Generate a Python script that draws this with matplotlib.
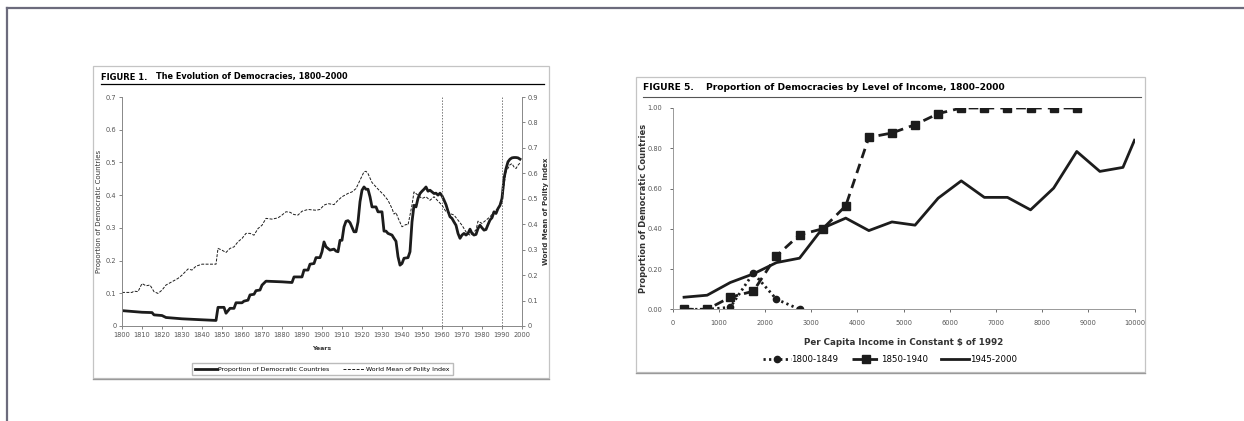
import matplotlib
matplotlib.use("Agg")
import matplotlib.pyplot as plt
from matplotlib.patches import Rectangle
from matplotlib.lines import Line2D

W, H = 1244, 421

# Figure 1 data: proportion of democratic countries (left axis)
anos_prop = [1800, 1810, 1815, 1816, 1820, 1822, 1830, 1840, 1847, 1848, 1851, 1852, 1854, 1856,
             1857, 1860, 1861, 1863, 1864, 1866, 1867, 1869, 1870, 1872, 1880, 1885, 1886, 1890,
             1891, 1893, 1894, 1896, 1897, 1899, 1900, 1901, 1902, 1904, 1906, 1907, 1908, 1909,
             1910, 1911, 1912, 1913, 1914, 1916, 1917, 1918, 1919, 1920, 1921, 1922, 1923, 1924,
             1925, 1927, 1928, 1930, 1931, 1932, 1933, 1935, 1936, 1937, 1938, 1939, 1940, 1941,
             1943, 1944, 1945, 1946, 1947, 1948, 1949, 1950, 1951, 1952, 1953, 1954, 1955, 1956,
             1957, 1958, 1959, 1960, 1961, 1962, 1963, 1964, 1965, 1966, 1967, 1968, 1969, 1970,
             1971, 1972, 1973, 1974, 1975, 1976, 1977, 1978, 1979, 1980, 1981, 1982, 1983, 1984,
             1985, 1986, 1987, 1988, 1989, 1990, 1991, 1992, 1993, 1994, 1995, 1996, 1997, 1998,
             1999]
prop_democ = [0.047, 0.042, 0.041, 0.034, 0.032, 0.026, 0.022, 0.019, 0.017, 0.057, 0.057, 0.039,
              0.054, 0.054, 0.071, 0.071, 0.076, 0.079, 0.095, 0.097, 0.108, 0.110, 0.125, 0.137,
              0.135, 0.133, 0.150, 0.150, 0.171, 0.171, 0.189, 0.191, 0.209, 0.209, 0.227, 0.257,
              0.242, 0.232, 0.235, 0.229, 0.227, 0.262, 0.262, 0.303, 0.320, 0.322, 0.316, 0.288,
              0.288, 0.318, 0.380, 0.415, 0.425, 0.418, 0.418, 0.395, 0.364, 0.364, 0.349, 0.349,
              0.290, 0.290, 0.283, 0.278, 0.268, 0.259, 0.212, 0.186, 0.191, 0.207, 0.209, 0.227,
              0.318, 0.369, 0.364, 0.390, 0.405, 0.412, 0.418, 0.425, 0.412, 0.415, 0.410, 0.405,
              0.406, 0.400, 0.406, 0.398, 0.385, 0.371, 0.351, 0.334, 0.329, 0.318, 0.308, 0.283,
              0.268, 0.278, 0.283, 0.278, 0.283, 0.296, 0.283, 0.278, 0.280, 0.298, 0.308, 0.300,
              0.293, 0.295, 0.310, 0.324, 0.331, 0.349, 0.344, 0.359, 0.369, 0.390, 0.451, 0.481,
              0.502, 0.510, 0.514, 0.515, 0.515, 0.514, 0.510]

# Figure 1 data: world mean of polity index (right axis)
anos_polity = [1800, 1805, 1806, 1808, 1810, 1812, 1814, 1816, 1818, 1820, 1822, 1825, 1828, 1830,
               1833, 1835, 1837, 1840, 1847, 1848, 1850, 1852, 1854, 1856, 1858, 1860, 1862, 1864,
               1866, 1868, 1870, 1872, 1875, 1878, 1880, 1882, 1884, 1886, 1888, 1890, 1893, 1897,
               1899, 1901, 1903, 1906, 1908, 1910, 1913, 1915, 1917, 1919, 1921, 1922, 1923, 1925,
               1928, 1931, 1933, 1935, 1936, 1937, 1938, 1940, 1942, 1943, 1945, 1946, 1948, 1950,
               1952, 1954, 1956, 1958, 1960, 1962, 1964, 1966, 1968, 1970, 1972, 1974, 1975, 1977,
               1978, 1980, 1982, 1984, 1986, 1988, 1990, 1991, 1992, 1994, 1995, 1996, 1997, 1998,
               1999]
polity = [0.132, 0.132, 0.137, 0.135, 0.167, 0.158, 0.161, 0.135, 0.128, 0.141, 0.161, 0.174,
          0.187, 0.200, 0.224, 0.220, 0.235, 0.243, 0.243, 0.305, 0.298, 0.289, 0.305, 0.311,
          0.331, 0.344, 0.364, 0.364, 0.357, 0.383, 0.396, 0.423, 0.420, 0.425, 0.436, 0.449,
          0.447, 0.438, 0.436, 0.451, 0.458, 0.455, 0.458, 0.475, 0.481, 0.477, 0.494, 0.508,
          0.521, 0.527, 0.540, 0.573, 0.606, 0.608, 0.599, 0.564, 0.538, 0.514, 0.494, 0.462,
          0.440, 0.446, 0.425, 0.390, 0.399, 0.397, 0.475, 0.527, 0.514, 0.501, 0.508, 0.494,
          0.508, 0.491, 0.475, 0.449, 0.442, 0.436, 0.416, 0.396, 0.370, 0.357, 0.364, 0.377,
          0.412, 0.403, 0.416, 0.429, 0.449, 0.462, 0.488, 0.553, 0.606, 0.634, 0.638, 0.625,
          0.619, 0.632, 0.641]

marcos = [1960, 1990]

# Figure 5 data
renda = [250, 750, 1250, 1750, 2250, 2750, 3250, 3750, 4250, 4750, 5250, 5750, 6250, 6750,
         7250, 7750, 8250, 8750, 9250, 9750, 10000]
p_1800_1849 = [0.00, 0.00, 0.01, 0.18, 0.05, 0.00]
p_1850_1940 = [0.00, 0.00, 0.06, 0.09, 0.265, 0.37, 0.40, 0.514, 0.854, 0.876, 0.917, 0.972,
               1.00, 1.00, 1.00, 1.00, 1.00, 1.00]
p_1945_2000 = [0.06, 0.07, 0.133, 0.176, 0.232, 0.254, 0.403, 0.453, 0.391, 0.434, 0.418,
               0.552, 0.638, 0.556, 0.556, 0.494, 0.602, 0.784, 0.685, 0.705, 0.84]


def caixa(x0, y0, x1, y1):
    # converte pixels (topo-esquerda) para coordenadas da figura
    return [x0 / W, 1 - y1 / H, (x1 - x0) / W, (y1 - y0) / H]


def fx(x):
    return x / W


def fy(y):
    return 1 - y / H


fig = plt.figure(figsize=(W / 100, H / 100), dpi=100)
fig.patch.set_facecolor('white')

# moldura da página
fig.add_artist(Line2D([fx(7), 1], [fy(8), fy(8)], color='#6c6b7c', lw=1.6))
fig.add_artist(Line2D([fx(7), fx(7)], [fy(8), 0], color='#6c6b7c', lw=1.6))

# caixas dos painéis
for (x0, y0, x1, y1) in [(93, 66, 549, 378), (636, 77, 1145, 372)]:
    fig.add_artist(Rectangle((fx(x0), fy(y1)), (x1 - x0) / W, (y1 - y0) / H,
                             transform=fig.transFigure, fill=False, ec='#c4c4c4', lw=0.9))
    fig.add_artist(Line2D([fx(x0), fx(x1)], [fy(y1) - 0.002, fy(y1) - 0.002],
                          color='#9a9a9a', lw=1.0))

cor = '#1c1c1c'

# ---------------- FIGURE 1 ----------------
fig.text(fx(101), fy(77), 'FIGURE 1.', fontsize=6.0, fontweight='heavy', va='center')
fig.text(fx(156), fy(77), 'The Evolution of Democracies, 1800\u20132000', fontsize=5.9,
         fontweight='bold', va='center')
fig.add_artist(Line2D([fx(101), fx(544)], [fy(84), fy(84)], color='black', lw=0.9))

ax1 = fig.add_axes(caixa(122, 97, 522, 326))
ax1.plot(anos_prop, prop_democ, color=cor, lw=2.0,
         label='Proportion of Democratic Countries')
for m in marcos:
    ax1.axvline(m, color='#777777', lw=0.7, ls=(0, (1.5, 1.5)))
ax1.set_xlim(1800, 2000)
ax1.set_ylim(0, 0.7)
ax1.set_xticks(range(1800, 2001, 10))
ax1.set_yticks([0, 0.1, 0.2, 0.3, 0.4, 0.5, 0.6, 0.7])
ax1.set_yticklabels(['0', '0.1', '0.2', '0.3', '0.4', '0.5', '0.6', '0.7'])
ax1.tick_params(labelsize=4.8, colors='#555555', length=2, width=0.5, pad=2)
ax1.spines['top'].set_visible(False)
for s in ['left', 'bottom', 'right']:
    ax1.spines[s].set_color('#888888')
    ax1.spines[s].set_linewidth(0.6)
ax1.set_xlabel('Years', fontsize=4.5, fontweight='bold', color='#333333', labelpad=6)
ax1.set_ylabel('Proportion of Democratic Countries', fontsize=5, color='#333333')
ax1.yaxis.set_label_coords(-0.05, 0.5)

ax1b = ax1.twinx()
ax1b.plot(anos_polity, polity, color=cor, lw=0.7, ls=(0, (3, 1.5)),
          label='World Mean of Polity Index')
ax1b.set_ylim(0, 0.9)
ax1b.set_yticks([0, 0.1, 0.2, 0.3, 0.4, 0.5, 0.6, 0.7, 0.8, 0.9])
ax1b.set_yticklabels(['0', '0.1', '0.2', '0.3', '0.4', '0.5', '0.6', '0.7', '0.8', '0.9'])
ax1b.tick_params(labelsize=4.8, colors='#555555', length=2, width=0.5, pad=2)
ax1b.spines['top'].set_visible(False)
for s in ['left', 'bottom', 'right']:
    ax1b.spines[s].set_color('#888888')
    ax1b.spines[s].set_linewidth(0.6)
ax1b.set_ylabel('World Mean of Polity Index', fontsize=5, fontweight='bold', color='#333333',
                rotation=90)
ax1b.yaxis.set_label_coords(1.0525, 0.5)

h1 = [Line2D([], [], color=cor, lw=2.0), Line2D([], [], color=cor, lw=0.7, ls=(0, (3, 1.5)))]
fig.legend(h1, ['Proportion of Democratic Countries', 'World Mean of Polity Index'],
           loc='center', bbox_to_anchor=(fx(322), fy(369)), ncol=2, fontsize=4.5,
           frameon=True, fancybox=False, edgecolor='#aaaaaa', handlelength=3.5,
           columnspacing=2.2, handletextpad=0.2, borderpad=0.5)

# ---------------- FIGURE 5 ----------------
fig.text(fx(643), fy(88), 'FIGURE 5.', fontsize=6.6, fontweight='bold', va='center')
fig.text(fx(706), fy(88), 'Proportion of Democracies by Level of Income, 1800\u20132000',
         fontsize=6.6, fontweight='bold', va='center')
fig.add_artist(Line2D([fx(643), fx(1141)], [fy(97), fy(97)], color='#555555', lw=0.8))

ax5 = fig.add_axes(caixa(672.5, 108, 1134.5, 309.3))
ax5.plot(renda[:len(p_1800_1849)], p_1800_1849, color=cor, lw=2.0, ls=(0, (0.8, 1.2)),
         marker='o', ms=4.5, label='1800-1849')
ax5.plot(renda[:len(p_1850_1940)], p_1850_1940, color=cor, lw=2.0, ls=(0, (3.5, 2.2)),
         marker='s', ms=5.5, label='1850-1940')
ax5.plot(renda, p_1945_2000, color=cor, lw=2.0, label='1945-2000')
ax5.set_xlim(0, 10000)
ax5.set_ylim(0, 1.0)
ax5.set_xticks(range(0, 10001, 1000))
ax5.set_yticks([0, 0.2, 0.4, 0.6, 0.8, 1.0])
ax5.set_yticklabels(['0.00', '0.20', '0.40', '0.60', '0.80', '1.00'])
ax5.tick_params(labelsize=4.8, colors='#555555', length=2.5, width=0.6, pad=5)
ax5.spines['top'].set_visible(False)
ax5.spines['right'].set_visible(False)
for s in ['left', 'bottom']:
    ax5.spines[s].set_color('#999999')
    ax5.spines[s].set_linewidth(0.7)
ax5.set_xlabel('Per Capita Income in Constant $ of 1992', fontsize=6.3, fontweight='bold',
               color='#333333')
ax5.xaxis.set_label_coords(0.5, -0.145)
ax5.set_ylabel('Proportion of Democratic Countries', fontsize=6, fontweight='bold',
               color='#333333')
ax5.yaxis.set_label_coords(-0.052, 0.5)
ax5.legend(loc='center', bbox_to_anchor=(fx(890), fy(360)), bbox_transform=fig.transFigure,
           ncol=3, fontsize=6.2, frameon=False, handlelength=3.2, handletextpad=0.1,
           columnspacing=1.6)

plt.savefig('out.png', dpi=100)
plt.close()
